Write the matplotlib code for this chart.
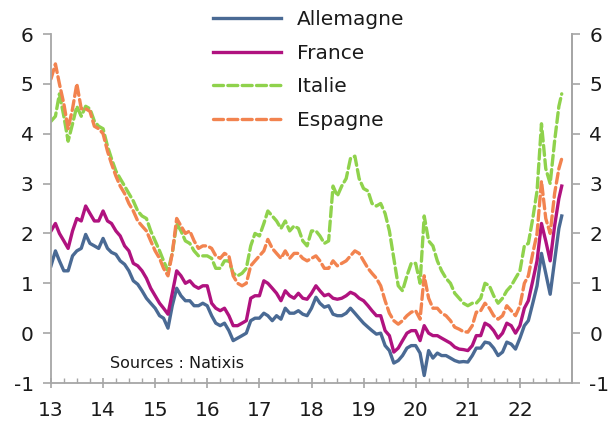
import matplotlib
matplotlib.use("Agg")
import matplotlib.pyplot as plt
import matplotlib.dates as mdates
import pandas as pd

plt.rcParams["axes.unicode_minus"] = False

# ---- data (monthly readings, first of month, Jan 2013 -> Oct 2022, + last obs) ----
series_names = ["Allemagne", "France", "Italie", "Espagne"]

allemagne = [
    1.35, 1.65, 1.45, 1.25, 1.25, 1.55, 1.65, 1.70, 1.98, 1.80, 1.75, 1.70,
    1.90, 1.70, 1.62, 1.58, 1.45, 1.38, 1.25, 1.05, 0.98, 0.85, 0.70, 0.60,
    0.50, 0.35, 0.30, 0.10, 0.55, 0.90, 0.75, 0.65, 0.65, 0.55, 0.55, 0.60,
    0.55, 0.35, 0.20, 0.15, 0.20, 0.05, -0.15, -0.10, -0.05, 0.00, 0.25, 0.30,
    0.30, 0.40, 0.35, 0.25, 0.35, 0.28, 0.50, 0.40, 0.40, 0.45, 0.38, 0.35,
    0.50, 0.72, 0.60, 0.52, 0.55, 0.38, 0.35, 0.35, 0.40, 0.50, 0.40, 0.30,
    0.20, 0.12, 0.05, -0.02, 0.00, -0.25, -0.35, -0.60, -0.55, -0.45, -0.30, -0.25,
    -0.25, -0.40, -0.85, -0.35, -0.50, -0.40, -0.45, -0.45, -0.50, -0.55, -0.58, -0.57,
    -0.58, -0.45, -0.30, -0.30, -0.18, -0.20, -0.30, -0.45, -0.38, -0.18, -0.22, -0.32,
    -0.10, 0.15, 0.25, 0.60, 0.95, 1.60, 1.20, 0.78, 1.45, 2.10, 2.35,
]
france = [
    2.05, 2.20, 2.00, 1.85, 1.70, 2.05, 2.30, 2.25, 2.55, 2.40, 2.25, 2.25,
    2.45, 2.25, 2.20, 2.05, 1.95, 1.75, 1.65, 1.40, 1.35, 1.25, 1.10, 0.90,
    0.75, 0.60, 0.50, 0.38, 0.80, 1.25, 1.15, 1.00, 1.05, 0.95, 0.90, 0.95,
    0.95, 0.60, 0.50, 0.45, 0.50, 0.35, 0.15, 0.15, 0.20, 0.25, 0.70, 0.75,
    0.75, 1.05, 1.00, 0.90, 0.80, 0.65, 0.85, 0.75, 0.70, 0.80, 0.70, 0.68,
    0.80, 0.95, 0.85, 0.75, 0.78, 0.70, 0.68, 0.70, 0.75, 0.82, 0.78, 0.70,
    0.65, 0.55, 0.45, 0.35, 0.35, 0.05, -0.05, -0.38, -0.30, -0.15, 0.00, 0.05,
    0.05, -0.15, 0.15, 0.00, -0.05, -0.05, -0.10, -0.15, -0.20, -0.28, -0.32, -0.33,
    -0.35, -0.25, -0.05, -0.05, 0.20, 0.15, 0.05, -0.10, 0.00, 0.20, 0.15, 0.00,
    0.15, 0.50, 0.65, 1.05, 1.45, 2.20, 1.85, 1.45, 2.15, 2.70, 2.95,
]
italie = [
    4.25, 4.35, 4.80, 4.35, 3.85, 4.20, 4.55, 4.35, 4.55, 4.50, 4.25, 4.15,
    4.10, 3.75, 3.50, 3.25, 3.10, 2.95, 2.80, 2.65, 2.45, 2.35, 2.30, 2.05,
    1.85, 1.65, 1.45, 1.25, 1.60, 2.20, 2.05, 1.85, 1.80, 1.65, 1.55, 1.55,
    1.55, 1.50, 1.30, 1.30, 1.45, 1.45, 1.20, 1.15, 1.20, 1.30, 1.75, 2.00,
    1.95, 2.20, 2.45, 2.35, 2.25, 2.10, 2.25, 2.05, 2.15, 2.10, 1.85, 1.75,
    2.05, 2.05, 1.95, 1.80, 1.85, 2.95, 2.75, 2.95, 3.10, 3.50, 3.55, 3.10,
    2.90, 2.85, 2.60, 2.55, 2.60, 2.40, 2.05, 1.50, 0.95, 0.85, 1.15, 1.40,
    1.40, 1.00, 2.35, 1.85, 1.75, 1.45, 1.25, 1.10, 1.00, 0.80, 0.70, 0.60,
    0.55, 0.60, 0.60, 0.70, 1.00, 0.95, 0.75, 0.60, 0.70, 0.85, 0.95, 1.10,
    1.25, 1.75, 1.80, 2.30, 2.85, 4.20, 3.30, 3.00, 3.85, 4.55, 4.80,
]
espagne = [
    5.10, 5.40, 5.00, 4.60, 4.10, 4.50, 5.00, 4.50, 4.50, 4.45, 4.15, 4.10,
    4.00, 3.65, 3.40, 3.15, 2.95, 2.80, 2.60, 2.45, 2.25, 2.15, 2.05, 1.85,
    1.65, 1.50, 1.30, 1.15, 1.60, 2.30, 2.15, 2.00, 2.05, 1.85, 1.70, 1.75,
    1.75, 1.70, 1.55, 1.50, 1.60, 1.55, 1.15, 1.00, 0.95, 1.00, 1.35, 1.45,
    1.55, 1.65, 1.88, 1.70, 1.60, 1.50, 1.65, 1.50, 1.60, 1.60, 1.50, 1.45,
    1.50, 1.55, 1.45, 1.30, 1.30, 1.45, 1.35, 1.40, 1.45, 1.55, 1.65, 1.60,
    1.45, 1.30, 1.20, 1.10, 0.95, 0.65, 0.40, 0.25, 0.18, 0.25, 0.35, 0.42,
    0.45, 0.28, 1.15, 0.70, 0.50, 0.50, 0.40, 0.35, 0.25, 0.12, 0.08, 0.03,
    0.02, 0.15, 0.42, 0.45, 0.60, 0.50, 0.35, 0.28, 0.35, 0.55, 0.45, 0.35,
    0.55, 1.00, 1.15, 1.60, 2.00, 3.05, 2.30, 2.00, 2.80, 3.30, 3.50,
]
y_ticks = [-1, 0, 1, 2, 3, 4, 5, 6]
x_years = list(range(2013, 2023))
source_text = "Sources : Natixis"

dates = pd.date_range("2013-01-01", "2022-10-01", freq="MS").append(
    pd.DatetimeIndex(["2022-10-21"]))

colors = ["#4a6a94", "#b0127f", "#8fd24c", "#f2834f"]
styles = ["-", "-", (0, (3, 1.3)), (0, (3, 1.3))]
values = [allemagne, france, italie, espagne]

TXT = "#1a1a1a"
GRID = "#a6a6a6"

fig = plt.figure(figsize=(6.09, 4.23), dpi=100)
ax = fig.add_axes([51 / 609, 1 - 383 / 423, (572 - 51) / 609, (383 - 34) / 423])

handles = []
for name, vals, c, ls in zip(series_names, values, colors, styles):
    (h,) = ax.plot(dates, vals, color=c, lw=2.4, ls=ls, label=name,
                   solid_joinstyle="round", dash_capstyle="round")
    handles.append(h)

ax.set_ylim(-1, 6)
ax.set_xlim(pd.Timestamp("2013-01-01"), pd.Timestamp("2023-01-01"))
ax.set_yticks(y_ticks)
ax.set_xticks([pd.Timestamp(f"{y}-01-01") for y in x_years])
ax.xaxis.set_major_formatter(mdates.DateFormatter("%y"))
ax.xaxis.set_minor_locator(mdates.MonthLocator(bymonth=[4, 7, 10]))

ax.spines["top"].set_visible(False)
for s in ["left", "right", "bottom"]:
    ax.spines[s].set_color(GRID)
    ax.spines[s].set_linewidth(1.3)

ax.tick_params(axis="y", which="major", direction="out", length=5.5, width=1.2,
               color=GRID, labelsize=14.5, labelcolor=TXT, pad=7)
ax.tick_params(axis="x", which="major", direction="inout", length=7, width=1.2,
               color=GRID, labelsize=14.5, labelcolor=TXT, pad=9.5)
ax.tick_params(axis="x", which="minor", direction="in", length=3.5, width=1.0,
               color=GRID)

ax2 = ax.twinx()
ax2.set_ylim(ax.get_ylim())
ax2.set_yticks(y_ticks)
for s in ["top", "left", "bottom"]:
    ax2.spines[s].set_visible(False)
ax2.spines["right"].set_color(GRID)
ax2.spines["right"].set_linewidth(1.3)
ax2.tick_params(axis="y", direction="out", length=5.5, width=1.2, color=GRID,
                labelsize=14.5, labelcolor=TXT, pad=7)

leg = fig.legend(handles=handles, loc="upper left",
                 bbox_to_anchor=(213 / 609, 1 - 10 / 423),
                 frameon=False, fontsize=14.5, handlelength=3.4,
                 handletextpad=0.75, labelspacing=0.73, borderpad=0,
                 borderaxespad=0)
for t in leg.get_texts():
    t.set_color(TXT)

fig.text(110 / 609, 1 - 363 / 423, source_text, fontsize=11.5, color=TXT,
         va="center", ha="left")

fig.savefig("out.png", dpi=100)
